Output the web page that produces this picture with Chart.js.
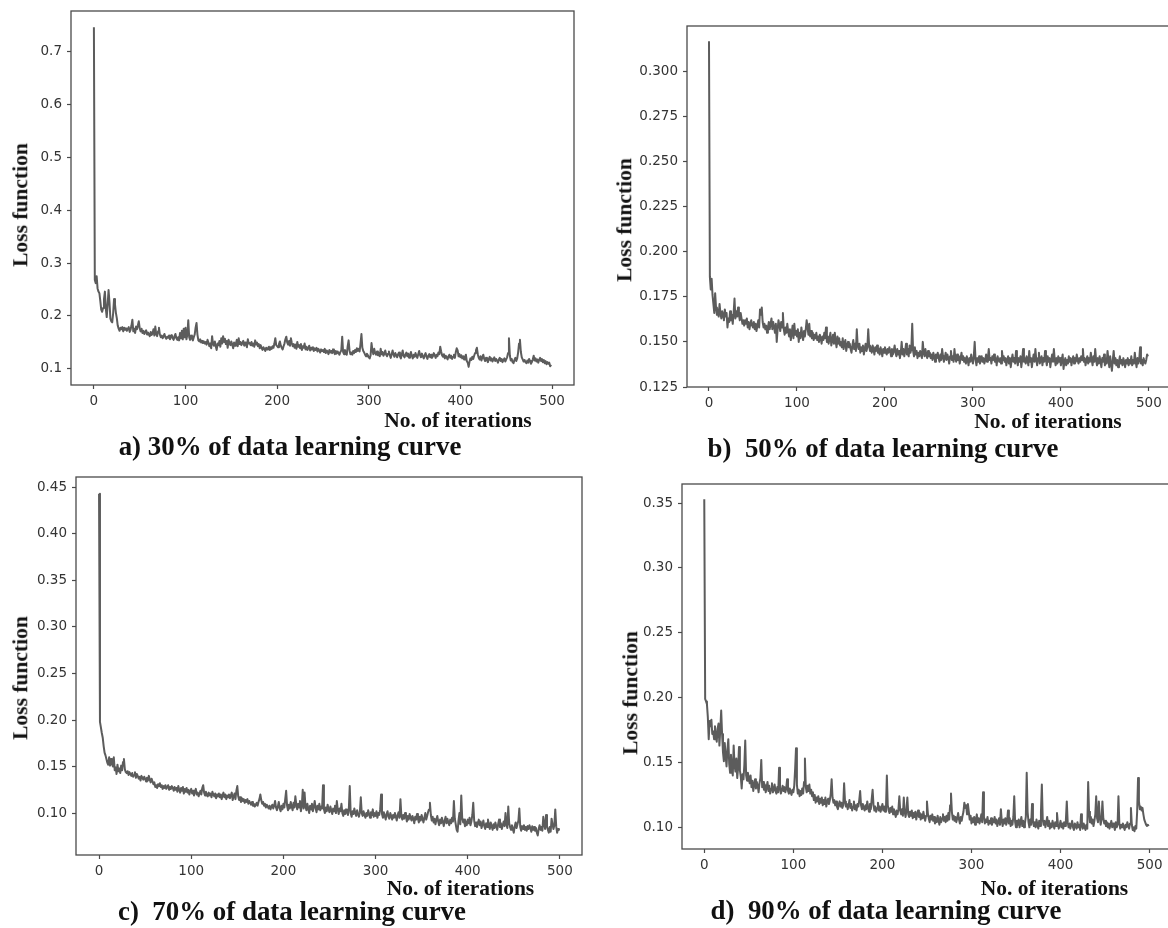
<!DOCTYPE html>
<html>
<head>
<meta charset="utf-8">
<script src="https://cdn.jsdelivr.net/npm/chart.js@4.4.0/dist/chart.umd.min.js"></script>
<style>
  html, body { margin: 0; padding: 0; background: #fff; overflow: hidden; }
  body { position: relative; width: 1168px; height: 928px; }
  canvas { position: absolute; }
  .lbl {
    position: absolute;
    font-family: 'Liberation Serif', 'Times New Roman', serif;
    font-weight: bold;
    color: #111;
    white-space: pre;
    line-height: 1;
    transform: translate(-50%, -50%);
  }
  .ylab { font-size: 21.5px; transform: translate(-50%, -50%) rotate(-90deg); }
  .xlab { font-size: 21.5px; }
  .cap { font-size: 28px; transform: translate(-50%, -50%) scaleX(0.96); }
</style>
</head>
<body>
<script>
// iteration axis ticks shared by all four plots
const iterTicks = [0, 100, 200, 300, 400, 500];

// loss per iteration, 30% of data
const lossA = [
  0.745, 0.268, 0.262, 0.275, 0.252, 0.246, 0.243, 0.228, 0.212, 0.208,
  0.215, 0.232, 0.246, 0.214, 0.198, 0.222, 0.249, 0.226, 0.195, 0.190,
  0.188, 0.205, 0.232, 0.222, 0.206, 0.196, 0.182, 0.176, 0.172, 0.178,
  0.175, 0.179, 0.171, 0.178, 0.174, 0.177, 0.172, 0.176, 0.179, 0.170,
  0.174, 0.182, 0.193, 0.171, 0.176, 0.168, 0.180, 0.175, 0.182, 0.190,
  0.177, 0.171, 0.176, 0.168, 0.172, 0.166, 0.170, 0.173, 0.165, 0.169,
  0.165, 0.162, 0.170, 0.164, 0.167, 0.175, 0.163, 0.180, 0.166, 0.162,
  0.171, 0.178, 0.165, 0.160, 0.163, 0.158, 0.162, 0.166, 0.160, 0.157,
  0.161, 0.159, 0.163, 0.156, 0.160, 0.164, 0.158, 0.155, 0.162, 0.166,
  0.158, 0.155, 0.160, 0.154, 0.168, 0.158, 0.172, 0.156, 0.176, 0.160,
  0.178, 0.156, 0.165, 0.192, 0.160, 0.155, 0.163, 0.158, 0.154, 0.160,
  0.165, 0.178, 0.187, 0.165, 0.154, 0.152, 0.156, 0.150, 0.153, 0.149,
  0.152, 0.148, 0.151, 0.146, 0.155, 0.150, 0.143, 0.148, 0.139, 0.162,
  0.147, 0.144, 0.152, 0.143, 0.136, 0.148, 0.145, 0.153, 0.142, 0.158,
  0.148, 0.162, 0.151, 0.157, 0.147, 0.153, 0.140, 0.155, 0.149, 0.145,
  0.152, 0.146, 0.139, 0.150, 0.144, 0.148, 0.155, 0.143, 0.158, 0.147,
  0.151, 0.145, 0.149, 0.153, 0.144, 0.150, 0.146, 0.141, 0.156, 0.148,
  0.149, 0.145, 0.151, 0.144, 0.148, 0.142, 0.154, 0.146, 0.150, 0.143,
  0.147, 0.139, 0.145, 0.140, 0.136, 0.141, 0.138, 0.134, 0.140, 0.137,
  0.139, 0.142, 0.136, 0.141, 0.138, 0.143, 0.140, 0.148, 0.158, 0.145,
  0.143, 0.141, 0.147, 0.152, 0.144, 0.140, 0.137, 0.143, 0.148, 0.156,
  0.161, 0.150, 0.146, 0.153, 0.144, 0.158, 0.149, 0.143, 0.147, 0.140,
  0.146, 0.138, 0.151, 0.142, 0.145, 0.139, 0.147, 0.136, 0.143, 0.140,
  0.148, 0.137, 0.142, 0.136, 0.139, 0.144, 0.135, 0.140, 0.137, 0.141,
  0.134, 0.139, 0.136, 0.140, 0.133, 0.138, 0.135, 0.131, 0.137, 0.134,
  0.136, 0.132, 0.138, 0.130, 0.135, 0.133, 0.128, 0.136, 0.131, 0.134,
  0.130, 0.137, 0.132, 0.128, 0.134, 0.129, 0.133, 0.130, 0.127, 0.132,
  0.135, 0.161, 0.132, 0.128, 0.136, 0.130, 0.127, 0.143, 0.154, 0.135,
  0.128, 0.131, 0.127, 0.134, 0.130, 0.136, 0.132, 0.139, 0.134, 0.138,
  0.133, 0.148, 0.166, 0.140, 0.134, 0.131, 0.127, 0.124, 0.129, 0.126,
  0.122, 0.120, 0.126, 0.149, 0.135, 0.128, 0.138, 0.130, 0.127, 0.133,
  0.126, 0.130, 0.124, 0.138, 0.128, 0.132, 0.125, 0.129, 0.135, 0.127,
  0.124, 0.129, 0.133, 0.126, 0.121, 0.128, 0.135, 0.127, 0.123, 0.130,
  0.126, 0.122, 0.128, 0.131, 0.124, 0.120, 0.127, 0.135, 0.125, 0.122,
  0.127, 0.131, 0.124, 0.129, 0.121, 0.126, 0.132, 0.125, 0.120, 0.127,
  0.123, 0.130, 0.125, 0.121, 0.128, 0.134, 0.126, 0.122, 0.129, 0.124,
  0.120, 0.126, 0.130, 0.123, 0.119, 0.125, 0.128, 0.122, 0.127, 0.121,
  0.124, 0.130, 0.126, 0.121, 0.127, 0.124, 0.131, 0.128, 0.142, 0.133,
  0.126, 0.123, 0.128, 0.120, 0.125, 0.122, 0.118, 0.124, 0.127, 0.121,
  0.125, 0.119, 0.123, 0.127, 0.121, 0.132, 0.139, 0.135, 0.124, 0.128,
  0.122, 0.126, 0.120, 0.124, 0.118, 0.123, 0.127, 0.115, 0.112, 0.104,
  0.114, 0.120, 0.117, 0.123, 0.119, 0.125, 0.130, 0.135, 0.140, 0.128,
  0.121, 0.118, 0.124, 0.116, 0.122, 0.127, 0.119, 0.115, 0.121, 0.117,
  0.113, 0.119, 0.123, 0.116, 0.120, 0.114, 0.118, 0.122, 0.115, 0.119,
  0.116, 0.112, 0.118, 0.121, 0.115, 0.119, 0.113, 0.117, 0.120, 0.114,
  0.118, 0.122, 0.130, 0.158, 0.125, 0.116, 0.119, 0.113, 0.111, 0.117,
  0.121, 0.115, 0.120, 0.131, 0.148, 0.155, 0.132, 0.122, 0.118, 0.114,
  0.117, 0.113, 0.111, 0.116, 0.112, 0.119, 0.115, 0.110, 0.113, 0.118,
  0.125, 0.116, 0.120, 0.114, 0.118, 0.112, 0.117, 0.121, 0.115, 0.119,
  0.113, 0.117, 0.111, 0.115, 0.109, 0.113, 0.110, 0.112, 0.105, 0.108
];

// loss per iteration, 50% of data
const lossB = [
  0.3166, 0.186, 0.179, 0.185, 0.176, 0.171, 0.166, 0.177, 0.169, 0.165,
  0.168, 0.164, 0.171, 0.166, 0.163, 0.167, 0.165, 0.162, 0.168, 0.164,
  0.166, 0.158, 0.163, 0.161, 0.167, 0.162, 0.165, 0.160, 0.166, 0.174,
  0.163, 0.167, 0.164, 0.169, 0.165, 0.162, 0.166, 0.163, 0.160, 0.162,
  0.159, 0.162, 0.160, 0.163, 0.158, 0.161, 0.157, 0.160, 0.162, 0.159,
  0.158, 0.161, 0.157, 0.160, 0.156, 0.159, 0.162, 0.158, 0.168, 0.165,
  0.169, 0.161, 0.158, 0.160, 0.157, 0.159, 0.155, 0.158, 0.161, 0.157,
  0.160, 0.163, 0.157, 0.161, 0.158, 0.155, 0.160, 0.150, 0.157, 0.162,
  0.159, 0.156, 0.161, 0.158, 0.166, 0.157, 0.154, 0.158, 0.155, 0.160,
  0.156, 0.153, 0.157, 0.151, 0.155, 0.159, 0.152, 0.160, 0.154, 0.156,
  0.153, 0.157, 0.150, 0.155, 0.152, 0.158, 0.154, 0.151, 0.156, 0.153,
  0.157, 0.162, 0.158, 0.154, 0.160, 0.153, 0.156, 0.152, 0.155, 0.151,
  0.154, 0.152, 0.155, 0.151, 0.153, 0.150, 0.154, 0.152, 0.149, 0.153,
  0.151, 0.155, 0.152, 0.158, 0.150, 0.153, 0.149, 0.152, 0.155, 0.148,
  0.151, 0.154, 0.149, 0.155, 0.150, 0.147, 0.153, 0.149, 0.152, 0.148,
  0.150, 0.147, 0.152, 0.146, 0.149, 0.151, 0.145, 0.148, 0.150, 0.147,
  0.149, 0.146, 0.144, 0.148, 0.151, 0.146, 0.149, 0.145, 0.157, 0.148,
  0.146, 0.149, 0.144, 0.147, 0.145, 0.148, 0.143, 0.146, 0.149, 0.145,
  0.147, 0.157, 0.148, 0.145, 0.147, 0.144, 0.148, 0.146, 0.143, 0.147,
  0.145, 0.148, 0.144, 0.146, 0.143, 0.147, 0.145, 0.142, 0.146, 0.144,
  0.147, 0.145, 0.143, 0.146, 0.144, 0.147, 0.145, 0.142, 0.146, 0.143,
  0.145, 0.148, 0.144, 0.142, 0.146, 0.143, 0.145, 0.141, 0.144, 0.150,
  0.143, 0.146, 0.142, 0.145, 0.149, 0.143, 0.146, 0.142, 0.148, 0.144,
  0.146, 0.160, 0.145, 0.142, 0.147, 0.143, 0.145, 0.141, 0.144, 0.142,
  0.145, 0.143, 0.141, 0.150, 0.144, 0.142, 0.146, 0.143, 0.141, 0.145,
  0.142, 0.144, 0.141, 0.143, 0.140, 0.144, 0.142, 0.139, 0.143, 0.141,
  0.144, 0.141, 0.139, 0.143, 0.140, 0.146, 0.142, 0.139, 0.141, 0.144,
  0.140, 0.143, 0.141, 0.138, 0.142, 0.145, 0.140, 0.142, 0.139, 0.146,
  0.141, 0.139, 0.143, 0.140, 0.142, 0.138, 0.141, 0.144, 0.140, 0.142,
  0.139, 0.141, 0.138, 0.142, 0.140, 0.137, 0.141, 0.139, 0.143, 0.140,
  0.138, 0.142, 0.150, 0.140, 0.137, 0.141, 0.139, 0.142, 0.138, 0.140,
  0.142, 0.139, 0.141, 0.138, 0.140, 0.143, 0.139, 0.141, 0.146, 0.140,
  0.141, 0.138, 0.142, 0.140, 0.143, 0.139, 0.141, 0.137, 0.142, 0.140,
  0.139, 0.141, 0.138, 0.145, 0.140, 0.142, 0.139, 0.141, 0.137, 0.140,
  0.142, 0.138, 0.141, 0.136, 0.140, 0.143, 0.139, 0.141, 0.138, 0.145,
  0.140, 0.137, 0.141, 0.139, 0.142, 0.136, 0.140, 0.146, 0.139, 0.141,
  0.138, 0.142, 0.140, 0.137, 0.145, 0.139, 0.141, 0.136, 0.140, 0.143,
  0.139, 0.146, 0.140, 0.137, 0.141, 0.144, 0.138, 0.140, 0.142, 0.137,
  0.141, 0.139, 0.145, 0.140, 0.137, 0.142, 0.139, 0.141, 0.136, 0.140,
  0.143, 0.139, 0.146, 0.140, 0.137, 0.141, 0.138, 0.142, 0.139, 0.141,
  0.137, 0.140, 0.143, 0.135, 0.139, 0.141, 0.137, 0.140, 0.138, 0.142,
  0.139, 0.141, 0.137, 0.140, 0.142, 0.138, 0.141, 0.139, 0.143, 0.140,
  0.138, 0.141, 0.139, 0.142, 0.140, 0.146, 0.139, 0.141, 0.137, 0.140,
  0.142, 0.138, 0.141, 0.139, 0.144, 0.140, 0.137, 0.142, 0.139, 0.146,
  0.140, 0.137, 0.141, 0.138, 0.142, 0.139, 0.136, 0.141, 0.139, 0.143,
  0.137, 0.141, 0.138, 0.145, 0.140, 0.136, 0.142, 0.138, 0.134, 0.140,
  0.145, 0.138, 0.141, 0.137, 0.140, 0.136, 0.139, 0.142, 0.138, 0.140,
  0.137, 0.141, 0.139, 0.136, 0.140, 0.138, 0.141, 0.137, 0.140, 0.138,
  0.142, 0.137, 0.140, 0.138, 0.144, 0.139, 0.136, 0.141, 0.138, 0.140,
  0.147, 0.138, 0.140, 0.137, 0.141, 0.139, 0.138, 0.140, 0.143, 0.142
];

// loss per iteration, 70% of data
const lossC = [
  0.443, 0.198, 0.192, 0.186, 0.181, 0.172, 0.165, 0.162, 0.158, 0.154,
  0.152, 0.160, 0.151, 0.158, 0.153, 0.150, 0.160, 0.146, 0.149, 0.142,
  0.152, 0.145, 0.148, 0.143, 0.151, 0.146, 0.155, 0.158, 0.147, 0.144,
  0.143, 0.145, 0.141, 0.144, 0.142, 0.140, 0.143, 0.139, 0.141, 0.144,
  0.138, 0.142, 0.140, 0.137, 0.139, 0.135, 0.140, 0.138, 0.136, 0.139,
  0.137, 0.134, 0.138, 0.135, 0.140, 0.136, 0.133, 0.137, 0.134, 0.131,
  0.133, 0.128, 0.130, 0.127, 0.131, 0.129, 0.132, 0.128, 0.130, 0.126,
  0.129, 0.127, 0.130, 0.126, 0.128, 0.130, 0.125, 0.128, 0.126, 0.129,
  0.127, 0.124, 0.128, 0.125, 0.127, 0.123, 0.129, 0.125, 0.122, 0.127,
  0.124, 0.128, 0.121, 0.126, 0.123, 0.127, 0.122, 0.125, 0.120, 0.124,
  0.126, 0.121, 0.124, 0.119, 0.123, 0.126, 0.120, 0.122, 0.118, 0.121,
  0.124, 0.120, 0.127, 0.130, 0.122, 0.119, 0.123, 0.120, 0.118, 0.122,
  0.119, 0.121, 0.117, 0.123, 0.120, 0.118, 0.121, 0.116, 0.120, 0.118,
  0.121, 0.117, 0.120, 0.115, 0.119, 0.122, 0.117, 0.120, 0.115, 0.119,
  0.117, 0.120, 0.116, 0.119, 0.122, 0.114, 0.118, 0.121, 0.115, 0.124,
  0.129, 0.118, 0.114, 0.117, 0.112, 0.116, 0.113, 0.115, 0.111, 0.114,
  0.112, 0.115, 0.110, 0.113, 0.111, 0.109, 0.112, 0.108, 0.110, 0.107,
  0.109, 0.111, 0.108, 0.112, 0.115, 0.120, 0.114, 0.110, 0.112, 0.108,
  0.110, 0.106, 0.109, 0.107, 0.105, 0.108, 0.104, 0.107, 0.109, 0.105,
  0.108, 0.113, 0.106, 0.103, 0.107, 0.112, 0.105, 0.102, 0.108, 0.104,
  0.110, 0.106, 0.115, 0.124, 0.108, 0.103, 0.109, 0.105, 0.112, 0.107,
  0.103, 0.111, 0.106, 0.118, 0.109, 0.104, 0.110, 0.106, 0.113, 0.102,
  0.108, 0.125, 0.105, 0.122, 0.107, 0.103, 0.110, 0.105, 0.100, 0.108,
  0.104, 0.110, 0.102, 0.107, 0.113, 0.105, 0.101, 0.108, 0.104, 0.110,
  0.103, 0.107, 0.105, 0.130, 0.104, 0.100, 0.106, 0.102, 0.109, 0.104,
  0.101, 0.107, 0.103, 0.099, 0.105, 0.102, 0.108, 0.100, 0.113, 0.104,
  0.099, 0.105, 0.102, 0.110, 0.100, 0.097, 0.103, 0.099, 0.104, 0.101,
  0.098, 0.104, 0.129, 0.100, 0.096, 0.102, 0.099, 0.105, 0.100, 0.097,
  0.103, 0.099, 0.096, 0.101, 0.117, 0.100, 0.097, 0.102, 0.098, 0.095,
  0.100, 0.097, 0.103, 0.099, 0.095, 0.101, 0.098, 0.104, 0.096, 0.100,
  0.097, 0.102, 0.095, 0.100, 0.098, 0.104, 0.120, 0.099, 0.095, 0.101,
  0.097, 0.093, 0.099, 0.102, 0.096, 0.094, 0.100, 0.097, 0.093, 0.098,
  0.095, 0.100, 0.096, 0.092, 0.098, 0.101, 0.095, 0.115, 0.097, 0.093,
  0.098, 0.094, 0.100, 0.096, 0.091, 0.097, 0.093, 0.099, 0.095, 0.092,
  0.097, 0.094, 0.089, 0.096, 0.093, 0.099, 0.094, 0.090, 0.096, 0.092,
  0.098, 0.094, 0.090, 0.095, 0.100, 0.093, 0.097, 0.101, 0.104, 0.111,
  0.098, 0.092, 0.096, 0.090, 0.094, 0.088, 0.093, 0.097, 0.091, 0.087,
  0.093, 0.089, 0.095, 0.091, 0.086, 0.092, 0.096, 0.089, 0.094, 0.090,
  0.087, 0.093, 0.089, 0.095, 0.091, 0.113, 0.094, 0.088, 0.082, 0.080,
  0.092, 0.100, 0.088, 0.119, 0.095, 0.090, 0.093, 0.086, 0.091, 0.087,
  0.093, 0.089, 0.095, 0.087, 0.091, 0.098, 0.111, 0.092, 0.086, 0.090,
  0.085, 0.089, 0.093, 0.087, 0.091, 0.084, 0.088, 0.092, 0.086, 0.083,
  0.089, 0.085, 0.093, 0.087, 0.083, 0.090, 0.086, 0.082, 0.088, 0.084,
  0.090, 0.086, 0.082, 0.088, 0.093, 0.085, 0.089, 0.083, 0.087, 0.091,
  0.086, 0.100, 0.088, 0.084, 0.107, 0.089, 0.085, 0.082, 0.087, 0.083,
  0.079, 0.086, 0.090, 0.084, 0.088, 0.092, 0.105, 0.085, 0.081, 0.086,
  0.083, 0.087, 0.082, 0.085, 0.081, 0.086, 0.083, 0.087, 0.084, 0.080,
  0.086, 0.082, 0.085, 0.081, 0.084, 0.079, 0.076, 0.083, 0.087, 0.082,
  0.085, 0.081, 0.096, 0.088, 0.083, 0.098, 0.086, 0.082, 0.079, 0.085,
  0.080, 0.094, 0.088, 0.083, 0.087, 0.104, 0.086, 0.079, 0.083, 0.082
];

// loss per iteration, 90% of data
const lossD = [
  0.353, 0.199, 0.197, 0.195, 0.185, 0.168, 0.182, 0.178, 0.183, 0.172,
  0.174, 0.168, 0.178, 0.171, 0.166, 0.176, 0.180, 0.163, 0.176, 0.190,
  0.172, 0.158, 0.151, 0.165, 0.155, 0.147, 0.160, 0.168, 0.149, 0.142,
  0.156, 0.145, 0.140, 0.163, 0.148, 0.143, 0.153, 0.138, 0.146, 0.162,
  0.144, 0.139, 0.130, 0.141, 0.137, 0.148, 0.167, 0.140, 0.136, 0.142,
  0.138, 0.134, 0.140, 0.131, 0.136, 0.128, 0.133, 0.137, 0.130, 0.135,
  0.132, 0.127, 0.134, 0.138, 0.152, 0.131, 0.135, 0.129, 0.133, 0.127,
  0.131, 0.135, 0.128, 0.132, 0.126, 0.130, 0.134, 0.127, 0.129, 0.133,
  0.128, 0.126, 0.131, 0.127, 0.146, 0.130, 0.126, 0.129, 0.132, 0.128,
  0.131, 0.127, 0.130, 0.137, 0.128, 0.126, 0.130, 0.127, 0.125, 0.129,
  0.127, 0.132, 0.145, 0.161, 0.133, 0.126, 0.129, 0.124, 0.128, 0.125,
  0.130, 0.126, 0.135, 0.153, 0.131, 0.127, 0.132, 0.128, 0.133, 0.126,
  0.129, 0.124, 0.127, 0.121, 0.125, 0.119, 0.123, 0.120, 0.124, 0.118,
  0.122, 0.119, 0.123, 0.117, 0.121, 0.118, 0.123, 0.116, 0.120, 0.122,
  0.118, 0.121, 0.126, 0.137, 0.123, 0.119, 0.121, 0.117, 0.120, 0.116,
  0.114, 0.118, 0.120, 0.116, 0.119, 0.115, 0.117, 0.134, 0.120, 0.116,
  0.118, 0.114, 0.117, 0.121, 0.115, 0.118, 0.113, 0.116, 0.120, 0.114,
  0.117, 0.113, 0.118, 0.116, 0.121, 0.128, 0.117, 0.114, 0.118, 0.115,
  0.113, 0.117, 0.114, 0.120, 0.115, 0.112, 0.118, 0.114, 0.122, 0.129,
  0.117, 0.113, 0.116, 0.112, 0.115, 0.119, 0.113, 0.116, 0.112, 0.115,
  0.118, 0.113, 0.116, 0.112, 0.115, 0.140, 0.117, 0.113, 0.111, 0.115,
  0.112, 0.116, 0.110, 0.114, 0.111, 0.108, 0.113, 0.110, 0.114, 0.124,
  0.113, 0.110, 0.114, 0.109, 0.123, 0.112, 0.108, 0.113, 0.123, 0.110,
  0.108, 0.112, 0.109, 0.113, 0.107, 0.111, 0.108, 0.112, 0.106, 0.110,
  0.113, 0.108, 0.111, 0.106, 0.110, 0.107, 0.112, 0.108, 0.105, 0.109,
  0.120, 0.111, 0.107, 0.104, 0.109, 0.106, 0.110, 0.105, 0.108, 0.103,
  0.107, 0.104, 0.109, 0.105, 0.102, 0.108, 0.104, 0.107, 0.110, 0.105,
  0.108, 0.104, 0.109, 0.105, 0.111, 0.106, 0.117, 0.126, 0.112, 0.106,
  0.109, 0.105, 0.108, 0.104, 0.107, 0.111, 0.106, 0.103, 0.108, 0.105,
  0.109, 0.112, 0.119, 0.115, 0.117, 0.110, 0.118, 0.112, 0.106, 0.109,
  0.103, 0.107, 0.104, 0.108, 0.102, 0.106, 0.110, 0.104, 0.107, 0.103,
  0.106, 0.110, 0.104, 0.127, 0.108, 0.103, 0.106, 0.104, 0.108, 0.102,
  0.105, 0.103, 0.107, 0.102, 0.106, 0.104, 0.108, 0.103, 0.106, 0.101,
  0.104, 0.107, 0.102, 0.114, 0.105, 0.101, 0.106, 0.103, 0.107, 0.102,
  0.105, 0.113, 0.103, 0.107, 0.101, 0.105, 0.102, 0.108, 0.124, 0.104,
  0.100, 0.105, 0.102, 0.106, 0.100, 0.104, 0.108, 0.101, 0.105, 0.100,
  0.103, 0.108, 0.142, 0.112, 0.104, 0.100, 0.106, 0.102, 0.118, 0.105,
  0.101, 0.104, 0.100, 0.106, 0.102, 0.099, 0.105, 0.101, 0.112, 0.133,
  0.106, 0.102, 0.105, 0.100, 0.104, 0.108, 0.101, 0.105, 0.099, 0.103,
  0.100, 0.105, 0.102, 0.099, 0.104, 0.101, 0.111, 0.103, 0.099, 0.102,
  0.105, 0.100, 0.103, 0.099, 0.104, 0.101, 0.106, 0.120, 0.104, 0.100,
  0.103, 0.099, 0.102, 0.105, 0.100, 0.098, 0.103, 0.101, 0.099, 0.104,
  0.100, 0.102, 0.098, 0.110, 0.101, 0.099, 0.103, 0.100, 0.098, 0.102,
  0.099, 0.135, 0.112, 0.104, 0.108, 0.103, 0.106, 0.101, 0.105, 0.110,
  0.124, 0.107, 0.104, 0.120, 0.108, 0.102, 0.106, 0.120, 0.107, 0.103,
  0.105, 0.101, 0.104, 0.100, 0.103, 0.099, 0.102, 0.105, 0.100, 0.103,
  0.101, 0.098, 0.104, 0.100, 0.102, 0.124, 0.103, 0.099, 0.102, 0.100,
  0.103, 0.100, 0.098, 0.102, 0.100, 0.104, 0.101, 0.099, 0.103, 0.115,
  0.102, 0.098, 0.100, 0.097, 0.101, 0.099, 0.112, 0.138, 0.120, 0.114,
  0.116, 0.113, 0.115, 0.110, 0.106, 0.104, 0.102, 0.101, 0.102, 0.101
];

// loss axis ticks and their printed labels
const yTicksA = [0.1, 0.2, 0.3, 0.4, 0.5, 0.6, 0.7];
const yLabelsA = ['0.1', '0.2', '0.3', '0.4', '0.5', '0.6', '0.7'];
const yTicksB = [0.125, 0.15, 0.175, 0.2, 0.225, 0.25, 0.275, 0.3];
const yLabelsB = ['0.125', '0.150', '0.175', '0.200', '0.225', '0.250', '0.275', '0.300'];
const yTicksC = [0.1, 0.15, 0.2, 0.25, 0.3, 0.35, 0.4, 0.45];
const yLabelsC = ['0.10', '0.15', '0.20', '0.25', '0.30', '0.35', '0.40', '0.45'];
const yTicksD = [0.1, 0.15, 0.2, 0.25, 0.3, 0.35];
const yLabelsD = ['0.10', '0.15', '0.20', '0.25', '0.30', '0.35'];

const captions = [
  'a) 30% of data learning curve',
  'b)  50% of data learning curve',
  'c)  70% of data learning curve',
  'd)  90% of data learning curve'
];
const yTitle = 'Loss function';
const xTitle = 'No. of iterations';

// plot boxes on the page and where the titles sit around them
const layouts = [
  { box: { left: 71, top: 11, width: 503, height: 374 }, yRange: [0.0698, 0.7755],
    yTitleAt: [21, 205], xTitleAt: [458, 421], captionAt: [290, 446] },
  { box: { left: 687, top: 26, width: 483, height: 361 }, yRange: [0.125, 0.325],
    yTitleAt: [624.5, 220], xTitleAt: [1048, 422], captionAt: [883, 448] },
  { box: { left: 76, top: 477, width: 506, height: 378 }, yRange: [0.055, 0.461],
    yTitleAt: [20.5, 678], xTitleAt: [460.5, 889], captionAt: [292, 911] },
  { box: { left: 682, top: 484, width: 489, height: 365 }, yRange: [0.0833, 0.3647],
    yTitleAt: [631, 693], xTitleAt: [1054.5, 889], captionAt: [886, 910] }
];

const series = [
  { loss: lossA, yTicks: yTicksA, yLabels: yLabelsA },
  { loss: lossB, yTicks: yTicksB, yLabels: yLabelsB },
  { loss: lossC, yTicks: yTicksC, yLabels: yLabelsC },
  { loss: lossD, yTicks: yTicksD, yLabels: yLabelsD }
];

// room kept around each plot box; the top pad has to exceed the
// half-label + tick padding Chart.js reserves for the y axis
const AXIS_W = 60;
const AXIS_H = 32;
const PAD = 18;
const INK = '#4a4a4a';
const TICK_FONT = { family: 'DejaVu Sans', size: 13.5 };
const TICK_COLOR = '#333';

// matplotlib-style box around the plot area
const frame = {
  id: 'frame',
  afterDatasetsDraw(chart) {
    const { ctx, chartArea: a } = chart;
    ctx.save();
    ctx.strokeStyle = INK;
    ctx.lineWidth = 1.3;
    ctx.strokeRect(a.left, a.top, a.right - a.left, a.bottom - a.top);
    ctx.restore();
  }
};

function addLabel(text, cls, at) {
  const d = document.createElement('div');
  d.className = 'lbl ' + cls;
  d.textContent = text;
  d.style.left = at[0] + 'px';
  d.style.top = at[1] + 'px';
  document.body.appendChild(d);
}

series.forEach((s, k) => {
  const lay = layouts[k];
  const w = lay.box.width + AXIS_W + PAD;
  const h = lay.box.height + AXIS_H + PAD;

  const canvas = document.createElement('canvas');
  canvas.width = w;
  canvas.height = h;
  canvas.style.left = (lay.box.left - AXIS_W) + 'px';
  canvas.style.top = (lay.box.top - PAD) + 'px';
  canvas.style.width = w + 'px';
  canvas.style.height = h + 'px';
  document.body.appendChild(canvas);

  new Chart(canvas, {
    type: 'line',
    data: {
      datasets: [{
        data: s.loss.map((v, i) => ({ x: i, y: v })),
        borderColor: '#5c5c5c',
        borderWidth: 2,
        borderJoinStyle: 'round',
        pointRadius: 0,
        tension: 0,
        fill: false
      }]
    },
    options: {
      responsive: false,
      animation: false,
      devicePixelRatio: 1,
      layout: { padding: { top: PAD, right: PAD, left: 0, bottom: 0 } },
      plugins: { legend: { display: false }, tooltip: { enabled: false } },
      scales: {
        x: {
          type: 'linear',
          min: -25,
          max: 524,
          afterBuildTicks: sc => { sc.ticks = iterTicks.map(v => ({ value: v })); },
          afterFit: sc => { sc.height = AXIS_H; },
          ticks: { color: TICK_COLOR, font: TICK_FONT, padding: 4, maxRotation: 0, autoSkip: false,
                   callback: v => String(v) },
          grid: { display: true, drawOnChartArea: false, drawTicks: true, tickLength: 4,
                  tickWidth: 1.2, tickColor: INK },
          border: { display: false }
        },
        y: {
          type: 'linear',
          min: lay.yRange[0],
          max: lay.yRange[1],
          afterBuildTicks: sc => { sc.ticks = s.yTicks.map(v => ({ value: v })); },
          afterFit: sc => { sc.width = AXIS_W; },
          ticks: { color: TICK_COLOR, font: TICK_FONT, padding: 5, autoSkip: false,
                   callback: (v, i) => s.yLabels[i] },
          grid: { display: true, drawOnChartArea: false, drawTicks: true, tickLength: 4,
                  tickWidth: 1.2, tickColor: INK },
          border: { display: false }
        }
      }
    },
    plugins: [frame]
  });

  addLabel(yTitle, 'ylab', lay.yTitleAt);
  addLabel(xTitle, 'xlab', lay.xTitleAt);
  addLabel(captions[k], 'cap', lay.captionAt);
});
</script>
</body>
</html>
